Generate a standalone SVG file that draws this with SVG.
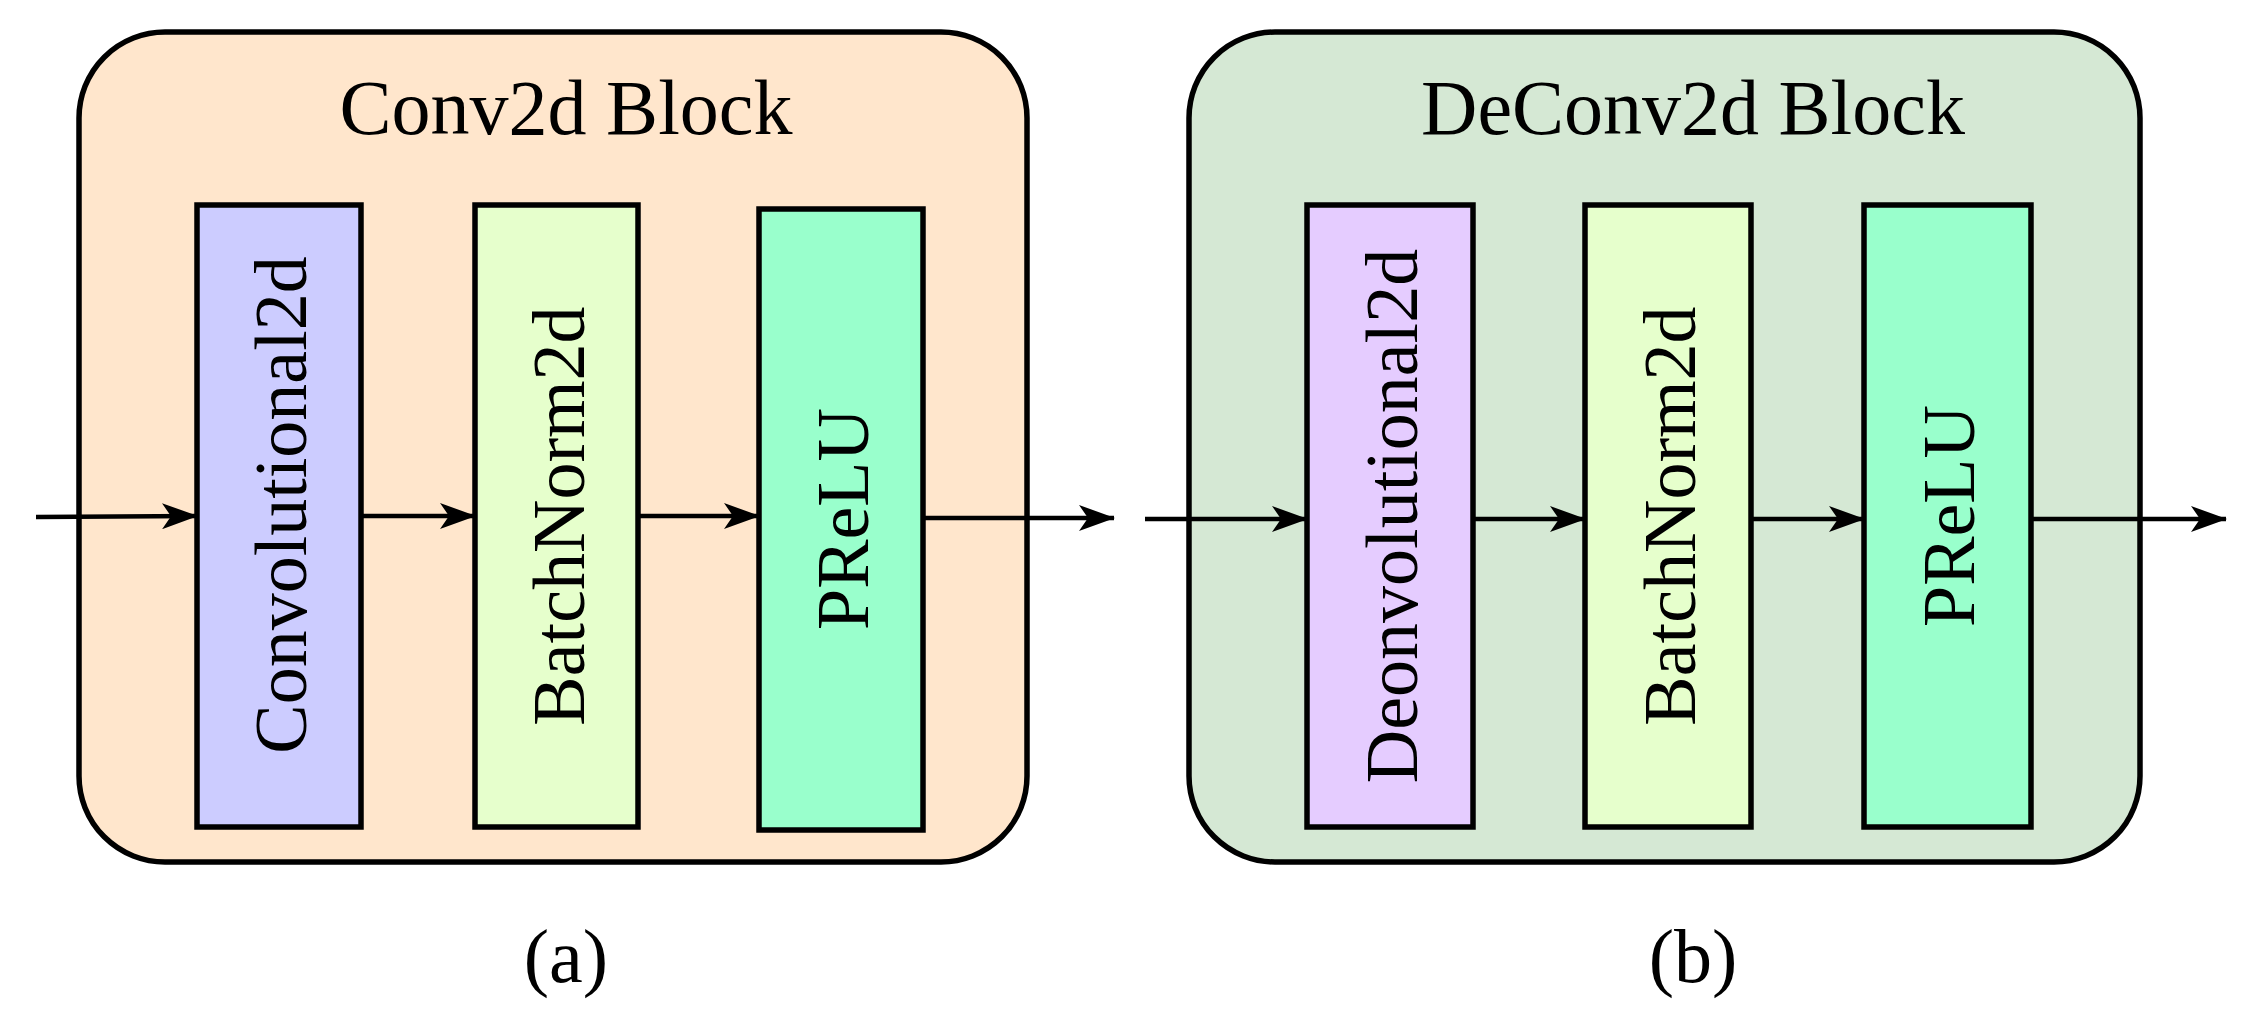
<svg xmlns="http://www.w3.org/2000/svg" width="2259" height="1022" viewBox="0 0 2259 1022">
<style>
.c{stroke:#000;stroke-width:5.5}
.b{stroke:#000;stroke-width:5.5}
.t{font-family:"Liberation Serif",serif;fill:#000;text-anchor:middle}
.v{font-family:"Liberation Serif",serif;font-size:74px;text-anchor:middle;dominant-baseline:central}
</style>
<defs>
<marker id="ah2" viewBox="0 0 36 26" refX="35" refY="13" markerWidth="36" markerHeight="26" orient="auto" markerUnits="userSpaceOnUse"><path d="M0,0 L36,13 L0,26 L9,13 Z" fill="#000"/></marker></defs>
<rect width="2259" height="1022" fill="#fff"/>
<g id="blockA"><rect class="c" x="79" y="32" width="948" height="830" rx="86" fill="#ffe6cc"/><text class="t" x="566" y="134" font-size="78">Conv2d Block</text></g>
<g id="conv"><rect class="b" x="197" y="205" width="164" height="622" fill="#ccccff"/><text class="v" transform="translate(281,505) rotate(-90)">Convolutional2d</text></g>
<g id="bn1"><rect class="b" x="475" y="205" width="163" height="622" fill="#e6ffcc"/><text class="v" transform="translate(559,516) rotate(-90)">BatchNorm2d</text></g>
<g id="prelu1"><rect class="b" x="759" y="209" width="164" height="621" fill="#99ffcc"/><text class="v" transform="translate(843,519) rotate(-90)">PReLU</text></g>
<g id="blockB"><rect class="c" x="1189" y="32" width="951" height="830" rx="86" fill="#d5e8d4"/><text class="t" x="1693" y="134" font-size="78">DeConv2d Block</text></g>
<g id="deconv"><rect class="b" x="1307" y="205" width="166" height="622" fill="#e5ccff"/><text class="v" transform="translate(1392,516) rotate(-90)">Deonvolutional2d</text></g>
<g id="bn2"><rect class="b" x="1585" y="205" width="166" height="622" fill="#e6ffcc"/><text class="v" transform="translate(1670,516) rotate(-90)">BatchNorm2d</text></g>
<g id="prelu2"><rect class="b" x="1864" y="205" width="167" height="622" fill="#99ffcc"/><text class="v" transform="translate(1949,516) rotate(-90)">PReLU</text></g>
<g id="connectors" fill="none" stroke="#000" stroke-width="4.5">
<path d="M36,517 L197,516" marker-end="url(#ah2)"/>
<path d="M361,516 L475,516" marker-end="url(#ah2)"/>
<path d="M638,516 L759,516" marker-end="url(#ah2)"/>
<path d="M923,518 L1114,518" marker-end="url(#ah2)"/>
<path d="M1145,519 L1307,519" marker-end="url(#ah2)"/>
<path d="M1473,519 L1585,519" marker-end="url(#ah2)"/>
<path d="M1751,519 L1864,519" marker-end="url(#ah2)"/>
<path d="M2031,519 L2226,519" marker-end="url(#ah2)"/>
</g>
<text class="t" x="566" y="982" font-size="76">(a)</text>
<text class="t" x="1693" y="982" font-size="76">(b)</text>
</svg>
